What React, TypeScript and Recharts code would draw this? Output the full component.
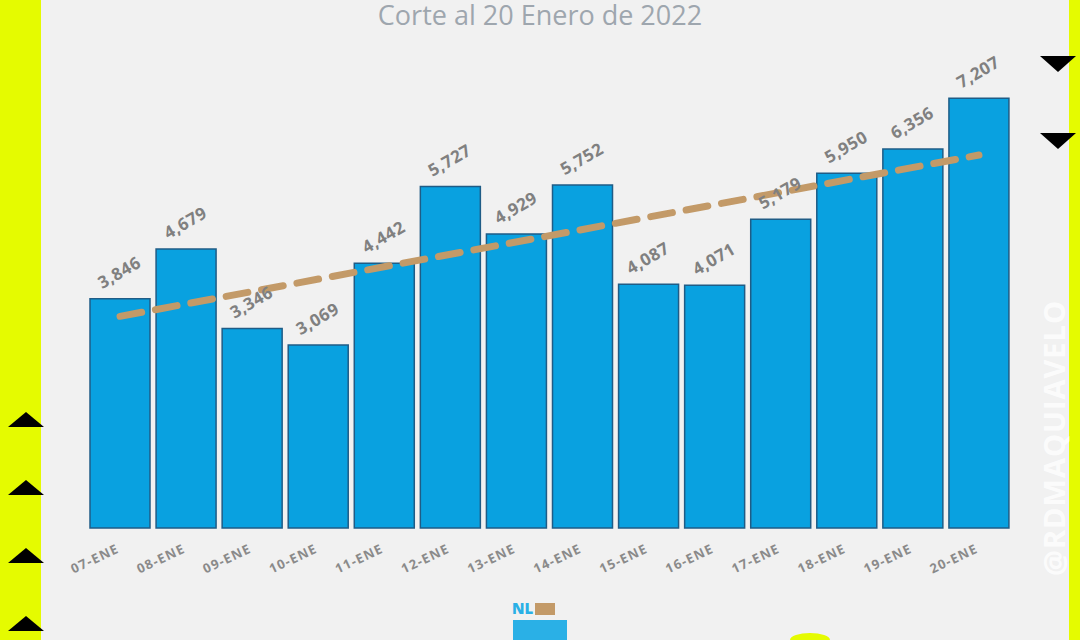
import React from "react";
import { Bar, BarChart, LabelList, ReferenceLine, XAxis, YAxis } from "recharts";

const days = ["07-ENE", "08-ENE", "09-ENE", "10-ENE", "11-ENE", "12-ENE", "13-ENE", "14-ENE", "15-ENE", "16-ENE", "17-ENE", "18-ENE", "19-ENE", "20-ENE"];
const cases = [3846, 4679, 3346, 3069, 4442, 5727, 4929, 5752, 4087, 4071, 5179, 5950, 6356, 7207];
// tendencia lineal, extremos
const trendStart = 3550;
const trendEnd = 6255;

const data = days.map((d, i) => ({ day: d, cases: cases[i] }));

const grayText = "#808080";
const yellow = "#e5fb00";

function ValueLabel(props: any) {
  const { x, y, width, value } = props;
  const cx = x + width / 2;
  const cy = y - 25;
  return (
    <text
      x={cx}
      y={cy}
      textAnchor="middle"
      dominantBaseline="middle"
      transform={`rotate(-30 ${cx} ${cy})`}
      fill={grayText}
      fontSize={17}
      fontWeight={700}
      letterSpacing={0.5}
      fontFamily="'Open Sans', sans-serif"
    >
      {Number(value).toLocaleString("en-US")}
    </text>
  );
}

function DayTick(props: any) {
  const { x, y, payload } = props;
  const tx = x;
  const ty = y + 16;
  return (
    <text
      x={tx}
      y={ty}
      textAnchor="end"
      transform={`rotate(-25 ${tx} ${ty})`}
      fill="#8a8a8a"
      fontSize={13}
      fontWeight={700}
      letterSpacing={1.2}
      fontFamily="'Open Sans', sans-serif"
    >
      {payload.value}
    </text>
  );
}

const tri = (left: number, top: number, up: boolean): React.CSSProperties => ({
  position: "absolute",
  left,
  top,
  width: 0,
  height: 0,
  borderLeft: "18px solid transparent",
  borderRight: "18px solid transparent",
  ...(up ? { borderBottom: "15px solid #000" } : { borderTop: "16px solid #000" }),
});

export default function App() {
  return (
    <div style={{ position: "fixed", left: 0, top: 0, width: 1080, height: 640, background: yellow, overflow: "hidden" }}>
      <div style={{ position: "absolute", left: 41, top: 0, width: 1028, height: 640, background: "#f1f1f1" }} />
      <div
        style={{
          position: "absolute",
          left: 0,
          top: 1,
          width: 1080,
          textAlign: "center",
          fontFamily: "'Open Sans', sans-serif",
          fontSize: 27,
          lineHeight: "27px",
          color: "#9ea6ae",
        }}
      >
        Corte al 20 Enero de 2022
      </div>
      <div style={{ position: "absolute", left: 0, top: 0 }}>
        <BarChart width={1080} height={640} data={data} margin={{ top: 51, right: 68, bottom: 72, left: 87 }} barCategoryGap={3}>
          <XAxis dataKey="day" axisLine={false} tickLine={false} height={40} interval={0} tick={<DayTick />} />
          <YAxis hide domain={[0, 8000]} />
          <Bar dataKey="cases" fill="#09a1e0" stroke="#1f5c86" strokeWidth={1.5} isAnimationActive={false}>
            <LabelList dataKey="cases" content={<ValueLabel />} />
          </Bar>
          <ReferenceLine
            segment={[
              { x: days[0], y: trendStart },
              { x: days[days.length - 1], y: trendEnd },
            ]}
            stroke="#c39a68"
            strokeWidth={7}
            strokeDasharray="22 14"
            strokeLinecap="round"
            ifOverflow="extendDomain"
          />
        </BarChart>
      </div>
      <div
        style={{
          position: "absolute",
          left: 1053,
          top: 438,
          transform: "translate(-50%, -50%) rotate(-90deg)",
          whiteSpace: "nowrap",
          fontFamily: "'Open Sans', sans-serif",
          fontWeight: 700,
          fontSize: 29,
          color: "rgba(255,255,255,0.8)",
          letterSpacing: 1,
        }}
      >
        @RDMAQUIAVELO
      </div>
      <div style={tri(1040, 56, false)} />
      <div style={tri(1040, 133, false)} />
      <div style={tri(8, 412, true)} />
      <div style={tri(8, 480, true)} />
      <div style={tri(8, 548, true)} />
      <div style={tri(8, 616, true)} />
      <div style={{ position: "absolute", left: 512, top: 598, fontFamily: "'Open Sans', sans-serif", fontWeight: 800, fontSize: 15, color: "#2ab0e6" }}>NL</div>
      <div style={{ position: "absolute", left: 535, top: 603, width: 20, height: 12, background: "#c39a68" }} />
      <div style={{ position: "absolute", left: 513, top: 620, width: 54, height: 22, background: "#2ab0e6" }} />
      <div style={{ position: "absolute", left: 790, top: 633, width: 40, height: 14, borderRadius: "50%", background: yellow }} />
    </div>
  );
}
